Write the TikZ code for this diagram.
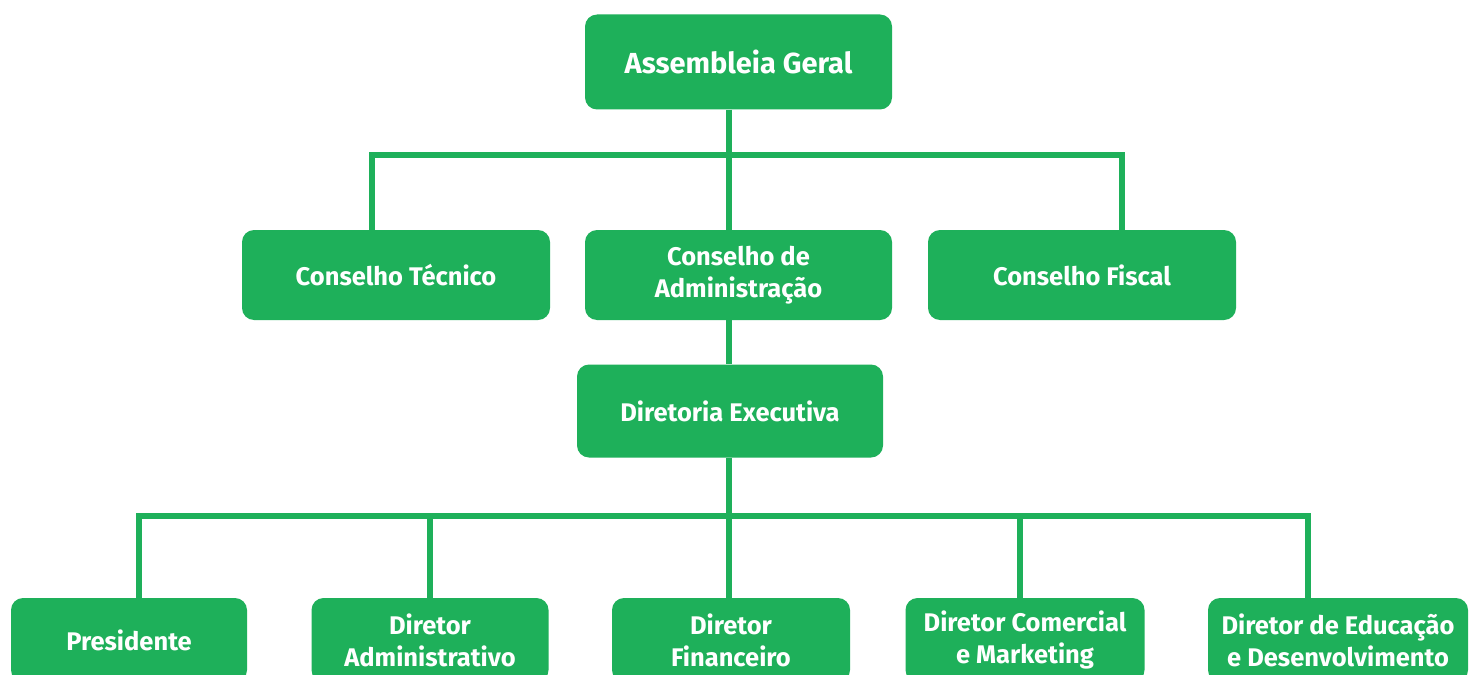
\documentclass[tikz,border=0pt]{standalone}
\usepackage{fontspec}
\setmainfont{Fira Sans}
\definecolor{grn}{RGB}{30,176,90}
\begin{document}
\begin{tikzpicture}[x=1pt,y=-1pt,
  box/.style={fill=grn,rounded corners=12pt,text=white,align=center,inner sep=0pt,font=\bfseries\fontsize{25.5}{32}\selectfont},
  conn/.style={draw=grn,line width=6pt}]
\useasboundingbox[fill=white] (0,0) rectangle (1471,674);
\node[box,minimum width=307pt,minimum height=95pt,font=\bfseries\fontsize{29}{34}\selectfont] (ag) at (738.5,62) {Assembleia Geral};
\node[box,minimum width=308pt,minimum height=90pt] (ct) at (396,275) {Conselho Técnico};
\node[box,minimum width=307pt,minimum height=90pt] (ca) at (738.5,275) {Conselho de\\Administração};
\node[box,minimum width=308pt,minimum height=90pt] (cf) at (1082,275) {Conselho Fiscal};
\node[box,minimum width=306pt,minimum height=93pt] (de) at (730,411) {Diretoria Executiva};
\node[box,minimum width=236pt,minimum height=84pt] (p1) at (129,640) {Presidente};
\node[box,minimum width=237pt,minimum height=84pt] (p2) at (430,640) {Diretor\\Administrativo};
\node[box,minimum width=238pt,minimum height=84pt] (p3) at (731,640) {Diretor\\Financeiro};
\node[box,minimum width=239pt,minimum height=84pt] (p4) at (1025,640) {Diretor Comercial\\e Marketing};
\node[box,minimum width=260pt,minimum height=84pt] (p5) at (1338,640) {Diretor de Educação\\e Desenvolvimento};
\coordinate (t) at (729,155);
\coordinate (tl) at (372,155);
\coordinate (tr) at (1122,155);
\coordinate (b) at (729,516);
\coordinate (bl) at (139,516);
\coordinate (bl2) at (430,516);
\coordinate (br2) at (1020,516);
\coordinate (br) at (1308,516);
\draw[conn] (ag.south -| t) -- (ca.north -| t);
\draw[conn] (ct.north -| tl) -- (tl) -- (tr) -- (cf.north -| tr);
\draw[conn] (ca.south -| t) -- (de.north -| t);
\draw[conn] (de.south -| b) -- (p3.north -| b);
\draw[conn] (p1.north -| bl) -- (bl) -- (br) -- (p5.north -| br);
\draw[conn] (bl2) -- (p2.north -| bl2);
\draw[conn] (br2) -- (p4.north -| br2);
\end{tikzpicture}
\end{document}
